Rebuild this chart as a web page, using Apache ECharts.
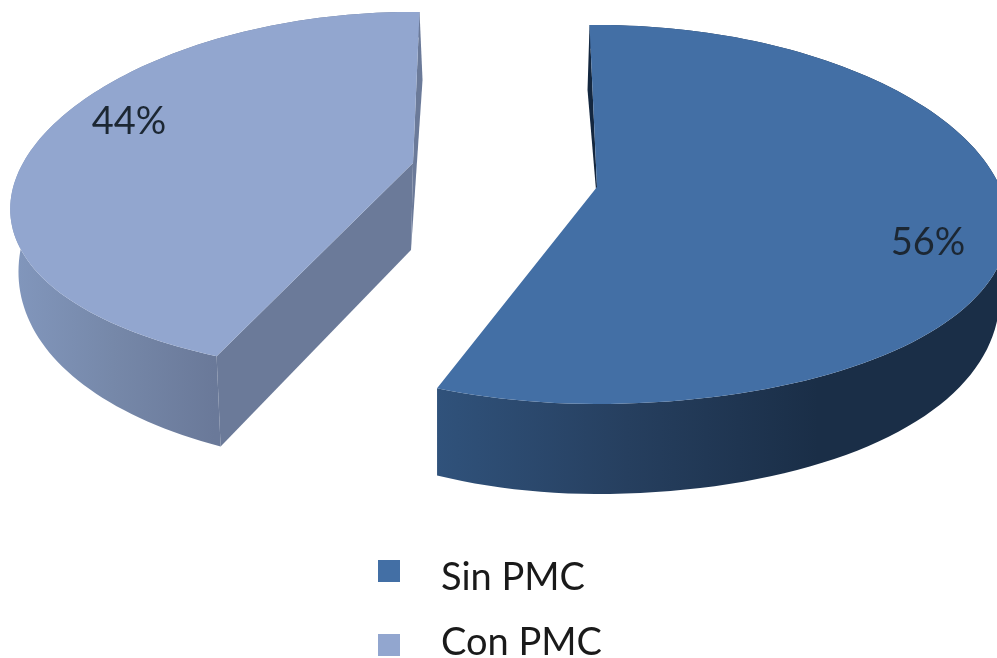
<!DOCTYPE html>
<html>
<head>
<meta charset="utf-8">
<style>
html,body{margin:0;padding:0;background:#fff;overflow:hidden}
#c{width:997px;height:658px;filter:blur(0.6px)}
</style>
<script src="https://cdn.jsdelivr.net/npm/echarts@6/dist/echarts.min.js"></script>
</head>
<body>
<div id="c"></div>
<script>
var categories = ['Sin PMC', 'Con PMC'];
var values = [56, 44];
var valueLabels = ['56%', '44%'];
var colors = ['#436fa5', '#92a6cf'];

var LAYOUT = [
  {cx:597,cy:187,rx:403,ry:185.5,kx:[.2,.13],ky:.145,rx2:390,ry2:218,kx2:[.25,.16],d:52,offset:-1.2,
   wall:'#14273f',wallRim:[-2,65],wallApex:[-1,3],
   side:['#30527b','#263f5f','#1a2e47','#1a2e47'],label:[928,243]},
  {cx:413,cy:163,rx:390,ry:176.7,kx:[.25,.25],ky:.17,rx2:382,ry2:210,kx2:[.25,.25],d:54,offset:1.2,
   wall:'#6b7a99',wallRim:[3,68],wallApex:[-2,87],
   side:['#8297bd','#7688a9','#6a7999','#6a7999'],label:[129,122]}
];
var LEGEND_ICON_TOP = [560, 634];
var LEGEND_TEXT_TOP = [559, 624];

var total = values.reduce(function(a,b){return a+b;},0);

function rim(L, deg, lower){
  var t = deg*Math.PI/180, u = Math.sin(t), v = -Math.cos(t);
  var rx = lower ? L.rx2 : L.rx, ry = lower ? L.ry2 : L.ry;
  var ks = lower ? L.kx2 : L.kx, kx = u >= 0 ? ks[0] : ks[1];
  return [L.cx + rx*u/(1-kx*v), L.cy + (lower?L.d:0) + ry*v/(1-L.ky*v)];
}

function makeRender(idx){
  return function(params, api){
    var L = LAYOUT[idx], before = 0;
    for (var i=0;i<idx;i++) before += values[i];
    var a0 = before/total*360 + L.offset;
    var a1 = a0 + api.value(0)/total*360;
    var topArc = [], lowArc = [], n = 120;
    for (var j=0;j<=n;j++){
      var a = a0 + (a1-a0)*j/n;
      topArc.push(rim(L,a,false));
      lowArc.push(rim(L,a,true));
    }
    var apex = [L.cx, L.cy];
    var back = idx===0 ? topArc[0] : topArc[n];
    var wall = [back, [back[0]+L.wallRim[0],back[1]+L.wallRim[1]],
                [apex[0]+L.wallApex[0],apex[1]+L.wallApex[1]], apex];
    var front = idx===0 ? topArc[n] : topArc[0];
    var frontLow = idx===0 ? lowArc[n] : lowArc[0];
    var innerWall = [apex, [apex[0]+L.wallApex[0],apex[1]+L.wallApex[1]], frontLow, front];
    var band = topArc.concat(lowArc.slice().reverse());
    var stops = L.side.map(function(c,k){return {offset:k/(L.side.length-1),color:c};});
    if (idx===1) stops = [
      {offset:0,color:L.side[0]},{offset:.25,color:L.side[1]},{offset:.5,color:L.side[2]},{offset:1,color:L.side[3]}];
    var children = [
      {type:'polygon',shape:{points:wall},style:{fill:L.wall}},
      {type:'polygon',shape:{points:band},style:{fill:{type:'linear',x:0,y:0,x2:1,y2:0,colorStops:stops}}}
    ];
    if (idx===1) children.push({type:'polygon',shape:{points:innerWall},style:{fill:L.wall}});
    children.push({type:'polygon',shape:{points:topArc.concat([apex])},style:{fill:colors[idx]}});
    children.push({type:'text',x:L.label[0],y:L.label[1],style:{
      text:valueLabels[idx],font:'38px Lato',fill:'#1c2733',align:'center',verticalAlign:'middle'}});
    return {type:'group',children:children};
  };
}

var legends = [];
categories.forEach(function(name,i){
  legends.push({data:[name],left:378,top:LEGEND_ICON_TOP[i],itemWidth:22,itemHeight:22,icon:'rect',
    selectedMode:false,padding:0,formatter:function(){return ' ';},
    textStyle:{fontFamily:'Lato',fontSize:10,color:'#1a1a1a'}});
  legends.push({data:[name],left:436,top:LEGEND_TEXT_TOP[i],itemWidth:0,itemHeight:0,itemGap:0,icon:'none',
    selectedMode:false,padding:0,
    textStyle:{fontFamily:'Lato',fontSize:38,color:'#1a1a1a'}});
});

var chart = echarts.init(document.getElementById('c'), null, {renderer:'canvas'});
chart.setOption({
  animation:false,
  backgroundColor:'#fff',
  legend:legends,
  series:categories.map(function(name,i){
    return {type:'custom',name:name,coordinateSystem:'none',silent:true,
      itemStyle:{color:colors[i]},
      renderItem:makeRender(i),data:[[values[i]]]};
  })
});
</script>
</body>
</html>
